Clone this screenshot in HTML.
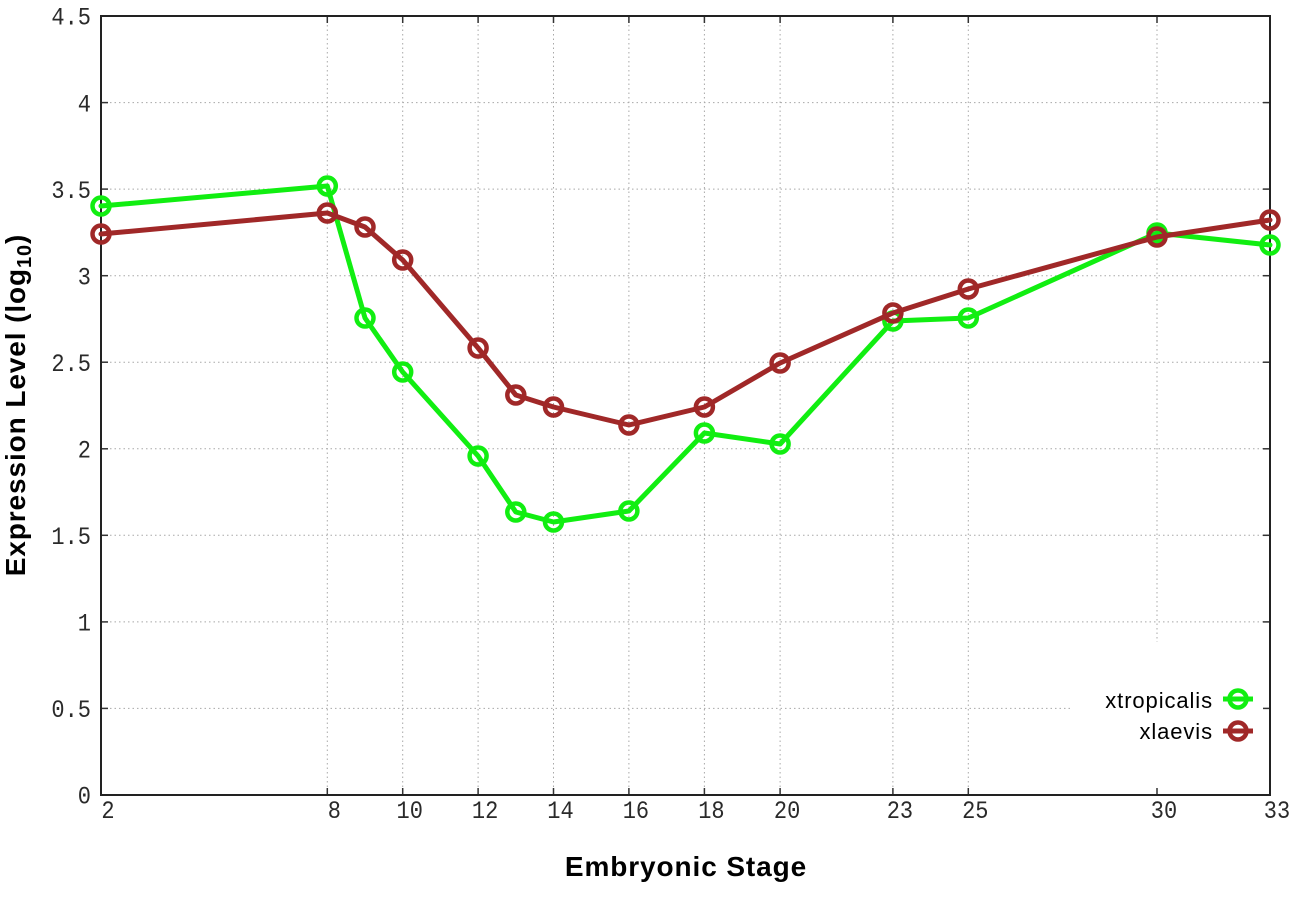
<!DOCTYPE html>
<html>
<head>
<meta charset="utf-8">
<style>
html,body{margin:0;padding:0;background:#fff;}
svg{display:block;}
.tk{font-family:"Liberation Mono",monospace;font-size:25px;fill:#2a2a2a;}
.ttl{font-family:"Liberation Sans",Arial,sans-serif;font-size:28px;font-weight:bold;fill:#000;letter-spacing:0.9px;}
.lg{font-family:"Liberation Sans",Arial,sans-serif;font-size:22px;fill:#000;letter-spacing:0.9px;}
</style>
</head>
<body>
<svg width="1296" height="907" viewBox="0 0 1296 907" xmlns="http://www.w3.org/2000/svg">
<rect x="0" y="0" width="1296" height="907" fill="#fff"/>
<!-- grid -->
<g stroke="#a8a8a8" stroke-width="1" stroke-dasharray="1.5,3" fill="none">
<line x1="101" y1="708.4" x2="1270" y2="708.4"/>
<line x1="101" y1="621.9" x2="1270" y2="621.9"/>
<line x1="101" y1="535.3" x2="1270" y2="535.3"/>
<line x1="101" y1="448.8" x2="1270" y2="448.8"/>
<line x1="101" y1="362.2" x2="1270" y2="362.2"/>
<line x1="101" y1="275.7" x2="1270" y2="275.7"/>
<line x1="101" y1="189.1" x2="1270" y2="189.1"/>
<line x1="101" y1="102.6" x2="1270" y2="102.6"/>
<line x1="327.3" y1="16" x2="327.3" y2="795"/>
<line x1="402.7" y1="16" x2="402.7" y2="795"/>
<line x1="478.1" y1="16" x2="478.1" y2="795"/>
<line x1="553.5" y1="16" x2="553.5" y2="795"/>
<line x1="628.9" y1="16" x2="628.9" y2="795"/>
<line x1="704.4" y1="16" x2="704.4" y2="795"/>
<line x1="780.1" y1="16" x2="780.1" y2="795"/>
<line x1="892.9" y1="16" x2="892.9" y2="795"/>
<line x1="968.3" y1="16" x2="968.3" y2="795"/>
<line x1="1157" y1="16" x2="1157" y2="795"/>
</g>
<!-- legend background -->
<rect x="1072" y="642" width="197" height="152" fill="#fff"/>
<!-- ticks -->
<g stroke="#333" stroke-width="1.5">
<line x1="101" y1="708.4" x2="108" y2="708.4"/><line x1="1270" y1="708.4" x2="1263" y2="708.4"/>
<line x1="101" y1="621.9" x2="108" y2="621.9"/><line x1="1270" y1="621.9" x2="1263" y2="621.9"/>
<line x1="101" y1="535.3" x2="108" y2="535.3"/><line x1="1270" y1="535.3" x2="1263" y2="535.3"/>
<line x1="101" y1="448.8" x2="108" y2="448.8"/><line x1="1270" y1="448.8" x2="1263" y2="448.8"/>
<line x1="101" y1="362.2" x2="108" y2="362.2"/><line x1="1270" y1="362.2" x2="1263" y2="362.2"/>
<line x1="101" y1="275.7" x2="108" y2="275.7"/><line x1="1270" y1="275.7" x2="1263" y2="275.7"/>
<line x1="101" y1="189.1" x2="108" y2="189.1"/><line x1="1270" y1="189.1" x2="1263" y2="189.1"/>
<line x1="101" y1="102.6" x2="108" y2="102.6"/><line x1="1270" y1="102.6" x2="1263" y2="102.6"/>
<line x1="327.3" y1="795" x2="327.3" y2="788"/><line x1="327.3" y1="16" x2="327.3" y2="23"/>
<line x1="402.7" y1="795" x2="402.7" y2="788"/><line x1="402.7" y1="16" x2="402.7" y2="23"/>
<line x1="478.1" y1="795" x2="478.1" y2="788"/><line x1="478.1" y1="16" x2="478.1" y2="23"/>
<line x1="553.5" y1="795" x2="553.5" y2="788"/><line x1="553.5" y1="16" x2="553.5" y2="23"/>
<line x1="628.9" y1="795" x2="628.9" y2="788"/><line x1="628.9" y1="16" x2="628.9" y2="23"/>
<line x1="704.4" y1="795" x2="704.4" y2="788"/><line x1="704.4" y1="16" x2="704.4" y2="23"/>
<line x1="780.1" y1="795" x2="780.1" y2="788"/><line x1="780.1" y1="16" x2="780.1" y2="23"/>
<line x1="892.9" y1="795" x2="892.9" y2="788"/><line x1="892.9" y1="16" x2="892.9" y2="23"/>
<line x1="968.3" y1="795" x2="968.3" y2="788"/><line x1="968.3" y1="16" x2="968.3" y2="23"/>
<line x1="1157" y1="795" x2="1157" y2="788"/><line x1="1157" y1="16" x2="1157" y2="23"/>
</g>
<!-- frame -->
<rect x="101" y="16" width="1169" height="779" fill="none" stroke="#222" stroke-width="2"/>
<!-- y tick labels -->
<g class="tk" text-anchor="end">
<text transform="translate(91,803.5) scale(0.88,1)">0</text>
<text transform="translate(91,717) scale(0.88,1)">0.5</text>
<text transform="translate(91,630.5) scale(0.88,1)">1</text>
<text transform="translate(91,544) scale(0.88,1)">1.5</text>
<text transform="translate(91,457.5) scale(0.88,1)">2</text>
<text transform="translate(91,370.9) scale(0.88,1)">2.5</text>
<text transform="translate(91,284.4) scale(0.88,1)">3</text>
<text transform="translate(91,197.8) scale(0.88,1)">3.5</text>
<text transform="translate(91,111.3) scale(0.88,1)">4</text>
<text transform="translate(91,24.7) scale(0.88,1)">4.5</text>
</g>
<!-- x tick labels -->
<g class="tk" text-anchor="middle">
<text transform="translate(108,818) scale(0.88,1)">2</text>
<text transform="translate(334.3,818) scale(0.88,1)">8</text>
<text transform="translate(409.7,818) scale(0.88,1)">10</text>
<text transform="translate(485.1,818) scale(0.88,1)">12</text>
<text transform="translate(560.5,818) scale(0.88,1)">14</text>
<text transform="translate(635.9,818) scale(0.88,1)">16</text>
<text transform="translate(711.4,818) scale(0.88,1)">18</text>
<text transform="translate(787.1,818) scale(0.88,1)">20</text>
<text transform="translate(899.9,818) scale(0.88,1)">23</text>
<text transform="translate(975.3,818) scale(0.88,1)">25</text>
<text transform="translate(1164,818) scale(0.88,1)">30</text>
<text transform="translate(1277,818) scale(0.88,1)">33</text>
</g>
<!-- axis titles -->
<text class="ttl" x="686" y="876" text-anchor="middle">Embryonic Stage</text>
<text class="ttl" transform="translate(25,405) rotate(-90)" text-anchor="middle">Expression Level (log<tspan font-size="20" dy="6">10</tspan><tspan dy="-6">)</tspan></text>
<!-- series: xtropicalis -->
<g fill="none" stroke="#11ee11" stroke-width="5" stroke-linejoin="round" stroke-linecap="round">
<polyline points="101,206 327.3,186 365,318 402.7,372 478.1,456 515.8,512 553.5,522 628.9,511 704.4,433 780.1,444 892.9,321 968.3,318 1157,233 1270,245"/>
<g stroke-width="4.5">
<circle cx="101" cy="206" r="8.5"/><circle cx="327.3" cy="186" r="8.5"/><circle cx="365" cy="318" r="8.5"/>
<circle cx="402.7" cy="372" r="8.5"/><circle cx="478.1" cy="456" r="8.5"/><circle cx="515.8" cy="512" r="8.5"/>
<circle cx="553.5" cy="522" r="8.5"/><circle cx="628.9" cy="511" r="8.5"/><circle cx="704.4" cy="433" r="8.5"/>
<circle cx="780.1" cy="444" r="8.5"/><circle cx="892.9" cy="321" r="8.5"/><circle cx="968.3" cy="318" r="8.5"/>
<circle cx="1157" cy="233" r="8.5"/><circle cx="1270" cy="245" r="8.5"/>
</g>
</g>
<!-- series: xlaevis -->
<g fill="none" stroke="#a02828" stroke-width="5" stroke-linejoin="round" stroke-linecap="round">
<polyline points="101,234 327.3,213 365,227 402.7,260 478.1,348 515.8,395 553.5,407 628.9,425 704.4,407 780.1,363 892.9,313 968.3,289 1157,237 1270,220"/>
<g stroke-width="4.5">
<circle cx="101" cy="234" r="8.5"/><circle cx="327.3" cy="213" r="8.5"/><circle cx="365" cy="227" r="8.5"/>
<circle cx="402.7" cy="260" r="8.5"/><circle cx="478.1" cy="348" r="8.5"/><circle cx="515.8" cy="395" r="8.5"/>
<circle cx="553.5" cy="407" r="8.5"/><circle cx="628.9" cy="425" r="8.5"/><circle cx="704.4" cy="407" r="8.5"/>
<circle cx="780.1" cy="363" r="8.5"/><circle cx="892.9" cy="313" r="8.5"/><circle cx="968.3" cy="289" r="8.5"/>
<circle cx="1157" cy="237" r="8.5"/><circle cx="1270" cy="220" r="8.5"/>
</g>
</g>
<!-- legend -->
<text class="lg" x="1213" y="708" text-anchor="end">xtropicalis</text>
<text class="lg" x="1213" y="739" text-anchor="end">xlaevis</text>
<g fill="none" stroke-width="5">
<line x1="1223" y1="699" x2="1253" y2="699" stroke="#11ee11"/>
<circle cx="1238" cy="699" r="8.5" stroke="#11ee11" stroke-width="4.5"/>
<line x1="1223" y1="731" x2="1253" y2="731" stroke="#a02828"/>
<circle cx="1238" cy="731" r="8.5" stroke="#a02828" stroke-width="4.5"/>
</g>
</svg>
</body>
</html>
